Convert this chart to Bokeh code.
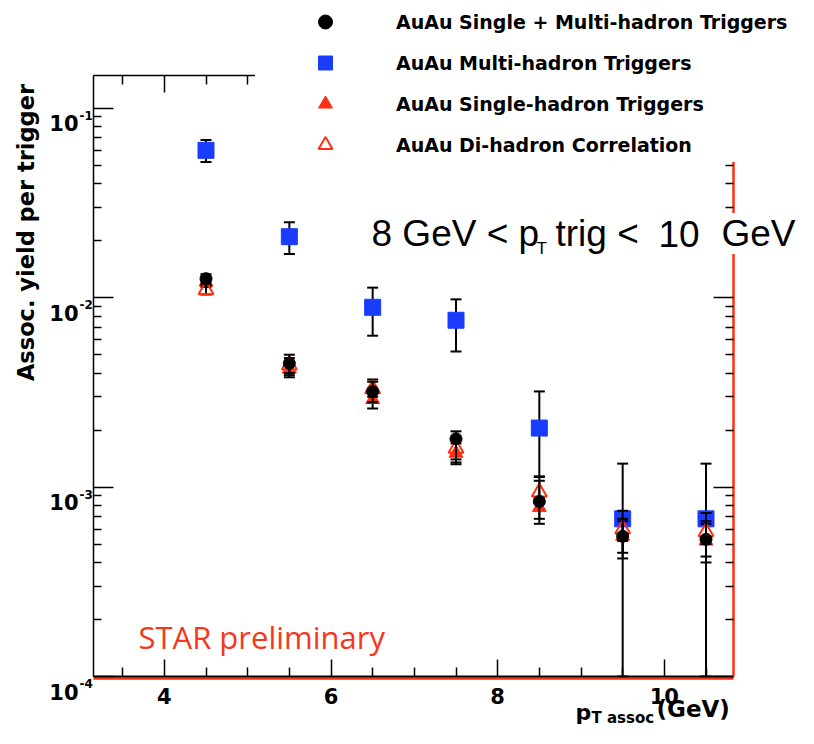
import math
from bokeh.plotting import figure
from bokeh.models import (Range1d, FixedTicker, LinearAxis, LogAxis, Label, Legend,
                          LegendItem, ColumnDataSource, CustomJSTickFormatter)
from bokeh.embed import file_html
from bokeh.resources import INLINE

# ---------------- data ----------------
pt_assoc = [4.5, 5.5, 6.5, 7.5, 8.5, 9.5, 10.5]

combined_y = [0.0126, 0.0045, 0.0032, 0.0018, 0.00084, 0.00055, 0.00053]
combined_hi = [0.0133, 0.0050, 0.0036, 0.00197, 0.00113, 0.00075, 0.00073]
combined_lo = [0.0119, 0.0039, 0.0028, 0.00132, 0.00064, 0.00042, 0.00040]

multi_y = [0.060, 0.021, 0.0089, 0.0076, 0.00205, 0.00068, 0.00068]
multi_hi = [0.068, 0.025, 0.0113, 0.0098, 0.0032, 0.00133, 0.00133]
multi_lo = [0.052, 0.017, 0.0063, 0.0052, 0.00114, 0.0001, 0.0001]

single_y = [0.0121, 0.0042, 0.0029, 0.00151, 0.00078, 0.00055, 0.00052]
single_hi = [0.0128, 0.0046, 0.0032, 0.0017, 0.00088, 0.00066, 0.00064]
single_lo = [0.0114, 0.0038, 0.0026, 0.00135, 0.00068, 0.00045, 0.00043]

dihadron_y = [0.0110, 0.0044, 0.0033, 0.0016, 0.00094, 0.00060, 0.00058]
dihadron_hi = [0.0116, 0.0048, 0.0037, 0.0018, 0.00108, 0.00068, 0.00066]
dihadron_lo = [0.0104, 0.0040, 0.0030, 0.0014, 0.00082, 0.00052, 0.00050]

x_major = [4, 6, 8, 10]
x_minor = [3.5, 4.5, 5, 5.5, 6.5, 7, 7.5, 8.5, 9, 9.5, 10.5]
y_decades = [-1, -2, -3, -4]

legend_labels = ["AuAu Single + Multi-hadron Triggers", "AuAu Multi-hadron Triggers",
                 "AuAu Single-hadron Triggers", "AuAu Di-hadron Correlation"]

# axis extents
X_LO, X_HI = 3.15, 10.83
Y_LO, Y_HI = 1e-4, 0.149

# ---------------- layout constants (pixels) ----------------
W, H = 798, 728
FL, FR, FT, FB = 93, 733, 75, 676  # visible axes box

BLUE = "#1a3cff"
RED = "#ff2f0f"

px_per_x = (FR - FL) / (X_HI - X_LO)
px_per_dec = (FB - FT) / math.log10(Y_HI / Y_LO)
x_start = X_LO - FL / px_per_x
x_end = X_LO + (W - FL) / px_per_x
y_start = 10 ** (math.log10(Y_LO) - (H - FB) / px_per_dec)
y_end = 10 ** (math.log10(Y_LO) + FB / px_per_dec)

p = figure(width=W, height=H, output_backend="svg", toolbar_location=None,
           x_range=Range1d(x_start, x_end), y_range=Range1d(y_start, y_end),
           y_axis_type="log", min_border=0, min_border_left=0, min_border_right=0,
           min_border_top=0, min_border_bottom=0)
p.title.visible = False
p.grid.visible = False
p.outline_line_color = None
p.background_fill_color = "white"
p.border_fill_color = "white"

xt = FixedTicker(ticks=x_major, minor_ticks=x_minor)
y_minor = [k * 10.0 ** d for d in (-4, -3, -2) for k in range(2, 10)]
yt = FixedTicker(ticks=[10.0 ** d for d in y_decades], minor_ticks=y_minor)
blank = CustomJSTickFormatter(code="return ''")


def style(ax, line_color="black", line_width=1.5, maj=17, mnr=9, ticks=True):
    ax.axis_line_color = line_color
    ax.axis_line_width = line_width
    ax.major_tick_in = maj if ticks else 0
    ax.major_tick_out = 0
    ax.minor_tick_in = mnr if ticks else 0
    ax.minor_tick_out = 0
    ax.major_tick_line_color = "black" if ticks else None
    ax.minor_tick_line_color = "black" if ticks else None
    ax.major_tick_line_width = 1.5
    ax.minor_tick_line_width = 1.5
    ax.major_label_standoff = 0


# red under-line of the bottom frame edge, slightly below the black axis line
xb_red = p.xaxis[0]
xb_red.ticker = xt
xb_red.formatter = blank
xb_red.fixed_location = 10 ** (math.log10(Y_LO) - 1.6 / px_per_dec)
xb_red.bounds = (X_LO, X_HI)
style(xb_red, line_color=RED, line_width=2.5, ticks=False)

xb = LinearAxis(ticker=xt, fixed_location=Y_LO, bounds=(X_LO, X_HI))
style(xb, line_width=2)
xb.major_label_text_font = "DejaVu Sans"
xb.major_label_text_font_style = "bold"
xb.major_label_text_font_size = "21px"
xb.major_label_text_color = "black"
xb.major_label_standoff = 11
p.add_layout(xb, "below")

yl = p.yaxis[0]
yl.ticker = yt
yl.formatter = blank
yl.fixed_location = X_LO
yl.bounds = (Y_LO, Y_HI)
style(yl, maj=20, mnr=8)

xtop = LinearAxis(ticker=xt, formatter=blank, fixed_location=Y_HI, bounds=(X_LO, X_HI))
style(xtop)
p.add_layout(xtop, "above")

yr = LogAxis(ticker=yt, formatter=blank, fixed_location=X_HI, bounds=(Y_LO, Y_HI))
style(yr, line_color=RED, line_width=2.5, maj=20, mnr=8)
p.add_layout(yr, "right")


# ---------------- data series ----------------
def series(yv, hi, lo, marker, size, fill, line, fill_alpha=1.0, line_width=1.0):
    src = ColumnDataSource(dict(x=pt_assoc, y=yv, hi=hi, lo=lo))
    p.segment(x0="x", y0="lo", x1="x", y1="hi", source=src, line_color="black", line_width=2)
    p.scatter("x", "hi", source=src, marker="dash", size=11, line_color="black", line_width=2)
    p.scatter("x", "lo", source=src, marker="dash", size=11, line_color="black", line_width=2)
    return p.scatter("x", "y", source=src, marker=marker, size=size, fill_color=fill,
                     fill_alpha=fill_alpha, line_color=line, line_width=line_width)


r_multi = series(multi_y, multi_hi, multi_lo, "square", 16, BLUE, BLUE)
r_single = series(single_y, single_hi, single_lo, "triangle", 14, RED, RED)
r_di = series(dihadron_y, dihadron_hi, dihadron_lo, "triangle", 15, "white", RED,
              fill_alpha=0.0, line_width=2)
r_comb = series(combined_y, combined_hi, combined_lo, "circle", 12, "black", "black")

# ---------------- legend ----------------
legend = Legend(items=[LegendItem(label=legend_labels[0], renderers=[r_comb]),
                       LegendItem(label=legend_labels[1], renderers=[r_multi]),
                       LegendItem(label=legend_labels[2], renderers=[r_single]),
                       LegendItem(label=legend_labels[3], renderers=[r_di])],
                location=(255, H - 162), orientation="vertical", margin=0, padding=0,
                glyph_width=140, glyph_height=35, label_height=35, spacing=6,
                label_standoff=1, border_line_color=None,
                background_fill_color="white", background_fill_alpha=1.0,
                label_text_font="DejaVu Sans", label_text_font_style="bold",
                label_text_font_size="19px", label_text_color="black")
p.add_layout(legend)

# ---------------- texts ----------------
for d in y_decades:
    p.add_layout(Label(x=X_LO, y=10.0 ** d, x_units="data", y_units="data", text="10",
                       text_align="right", text_baseline="alphabetic",
                       x_offset=-15, y_offset=-15,
                       text_font="DejaVu Sans", text_font_style="bold",
                       text_font_size="21px", text_color="black"))
    p.add_layout(Label(x=X_LO, y=10.0 ** d, x_units="data", y_units="data", text=str(d),
                       text_align="left", text_baseline="alphabetic",
                       x_offset=-14, y_offset=-7,
                       text_font="DejaVu Sans", text_font_style="bold",
                       text_font_size="12px", text_color="black"))


def lab(text, rx, ry, size, font="DejaVu Sans", style="bold", color="black",
        align="left", baseline="alphabetic", angle=0.0, bg=None):
    # rx, ry: canvas pixels from top-left
    p.add_layout(Label(x=rx, y=H - ry, x_units="screen", y_units="screen", text=text,
                       text_align=align, text_baseline=baseline, angle=angle,
                       text_font=font, text_font_style=style, text_font_size=size,
                       text_color=color, background_fill_color=bg))


lab("Assoc. yield per trigger", 25, 232, "22.5px", align="center", baseline="middle",
    angle=math.pi / 2)
lab("p", 575, 712, "22px")
lab("T assoc", 591, 717, "15px")
lab("(GeV)", 656, 708, "23px")

lab("STAR preliminary", 138, 636, "31px", font="Open Sans", style="normal", color="#f5371c")

lab("8 GeV < p", 371, 233, "37px", font="Liberation Sans", style="normal")
lab("T", 536, 248, "17px", font="Liberation Sans", style="normal")
lab("trig <", 555, 233, "37px", font="Liberation Sans", style="normal")
lab("10", 658, 233, "37px", font="Liberation Sans", style="normal")
lab("GeV", 795, 233, "37px", font="Liberation Sans", style="normal", align="right",
    bg="white")

open("out.html", "w").write(file_html(p, INLINE))
